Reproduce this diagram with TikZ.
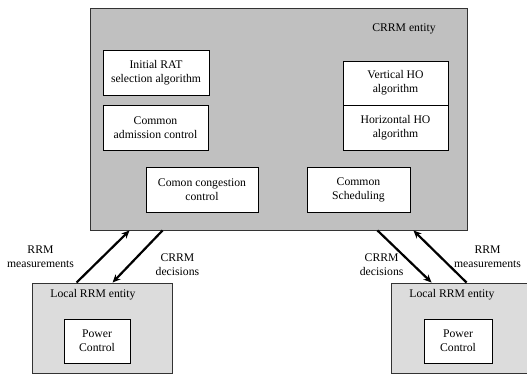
\documentclass[tikz,border=0pt]{standalone}
\usepackage{fontspec}
\setmainfont{Liberation Serif}
\usetikzlibrary{arrows.meta}
\definecolor{crrmgray}{HTML}{C0C0C0}
\definecolor{localgray}{HTML}{DCDCDC}

\begin{document}
\begin{tikzpicture}[x=1pt, y=-1pt,
 entity/.style={rectangle, draw=black!80, line width=0.9pt, fill=crrmgray, inner sep=0pt},
 localent/.style={rectangle, draw=black!80, line width=0.9pt, fill=localgray,
 inner sep=0pt, minimum width=140pt, minimum height=90pt},
 alg/.style={rectangle, draw=black, line width=0.7pt, fill=white, align=center,
 inner sep=0pt, minimum height=45pt, font=\fontsize{11.7}{14}\selectfont},
 lbl/.style={align=center, inner sep=0pt, font=\fontsize{11.7}{14}\selectfont},
 a/.style={-{Stealth[length=8pt,width=7pt]}, draw=black, line width=2.2pt},
]
 \useasboundingbox (0,0) rectangle (527,374);

 % central entity
 \node[entity, minimum width=377pt, minimum height=222pt] (CRRM) at (278.5,119) {};
 \node[lbl] (CRRMlbl) at (404,29) {CRRM entity};
 \node[alg, minimum width=106pt] (RAT) at (156,72.5) {Initial RAT\\selection algorithm};
 \node[alg, minimum width=105pt] (CAC) at (155.5,127.5) {Common\\admission control};
 \node[alg, minimum width=105pt, minimum height=44pt] (VHO) at (395.5,83) {Vertical HO\\algorithm};
 \node[alg, minimum width=105pt] (HHO) at (395.5,127.5) {Horizontal HO\\algorithm};
 \node[alg, minimum width=112pt] (CCC) at (202,189.5) {Comon congestion\\control};
 \node[alg, minimum width=103pt] (CS) at (358.5,189.5) {Common\\Scheduling};

 % local entities
 \node[localent] (LL) at (102,328) {};
 \node[lbl] (LLlbl) at (93,295) {Local RRM entity};
 \node[alg, minimum width=66pt, minimum height=44pt] (PCL) at (97,341) {Power\\Control};
 \node[localent] (LR) at (461,328) {};
 \node[lbl] (LRlbl) at (452,295) {Local RRM entity};
 \node[alg, minimum width=68pt, minimum height=44pt] (PCR) at (458,341) {Power\\Control};

 \draw[a] ([xshift=45pt]LL.north west) -- node[lbl, midway, left=28pt]{RRM\\measurements} ([xshift=40pt]CRRM.south west);
 \draw[a] ([xshift=73pt]CRRM.south west) -- node[lbl, midway, right=17pt, yshift=-8pt]{CRRM\\decisions} ([xshift=81pt]LL.north west);
 \draw[a] ([xshift=-90pt]CRRM.south east) -- node[lbl, midway, left=0pt, yshift=-8pt]{CRRM\\decisions} ([xshift=41pt]LR.north west);
 \draw[a] ([xshift=76pt]LR.north west) -- node[lbl, midway, right=13pt]{RRM\\measurements} ([xshift=-54pt]CRRM.south east);
\end{tikzpicture}
\end{document}
